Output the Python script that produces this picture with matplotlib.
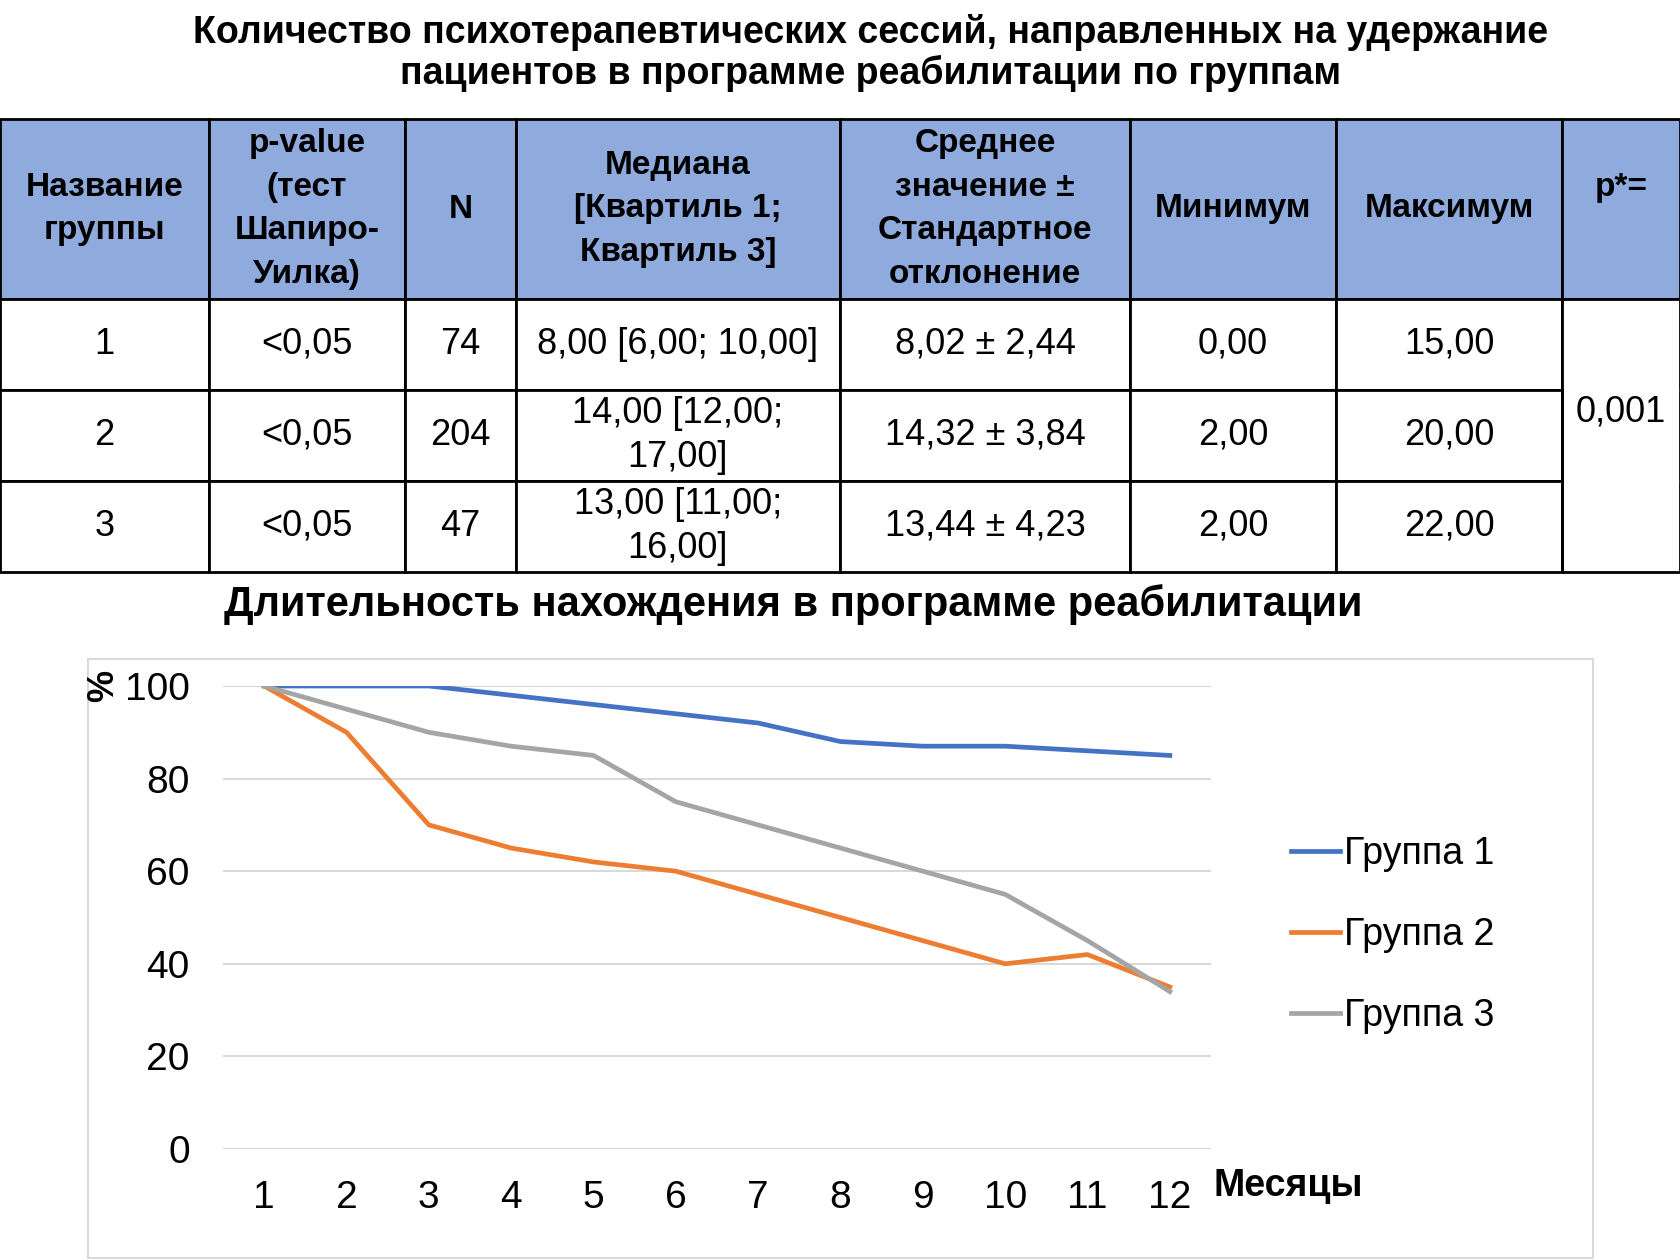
import matplotlib
matplotlib.use("Agg")
import matplotlib.pyplot as plt
from matplotlib.patches import Rectangle

plt.rcParams['font.family'] = ['Liberation Sans', 'DejaVu Sans']
NARROW = ['Liberation Sans Narrow', 'Liberation Sans', 'DejaVu Sans']

# --- данные таблицы ---
col_headers = ["Название\nгруппы", "p-value\n(тест\nШапиро-\nУилка)", "N",
               "Медиана\n[Квартиль 1;\nКвартиль 3]",
               "Среднее\nзначение ±\nСтандартное\nотклонение",
               "Минимум", "Максимум", "p*=\n"]
group_names = ["1", "2", "3"]
shapiro_p = ["<0,05", "<0,05", "<0,05"]
n_values = ["74", "204", "47"]
medians = ["8,00 [6,00; 10,00]", "14,00 [12,00;\n17,00]", "13,00 [11,00;\n16,00]"]
mean_sd = ["8,02 ± 2,44", "14,32 ± 3,84", "13,44 ± 4,23"]
minimums = ["0,00", "2,00", "2,00"]
maximums = ["15,00", "20,00", "22,00"]
p_total = "0,001"

# --- данные графика ---
months = [1, 2, 3, 4, 5, 6, 7, 8, 9, 10, 11, 12]
group1 = [100, 100, 100, 98, 96, 94, 92, 88, 87, 87, 86, 85]
group2 = [100, 90, 70, 65, 62, 60, 55, 50, 45, 40, 42, 35]
group3 = [100, 95, 90, 87, 85, 75, 70, 65, 60, 55, 45, 34]

fig = plt.figure(figsize=(16.8, 12.6), dpi=100)
W, H = 1680, 1260

fig.text(871 / W, 1 - 53 / H,
         "Количество психотерапевтических сессий, направленных на удержание\n"
         "пациентов в программе реабилитации по группам",
         ha='center', va='center', fontsize=27, fontweight='bold', linespacing=1.15)

# таблица
tab_top, tab_bot = 119, 572
tax = fig.add_axes([0, 1 - tab_bot / H, 1, (tab_bot - tab_top) / H])
tax.axis('off')
col_w = [209, 196, 111, 324, 290, 206, 226, 118]
col_w = [w / sum(col_w) for w in col_w]
body = [list(r) + [""] for r in zip(group_names, shapiro_p, n_values, medians,
                                    mean_sd, minimums, maximums)]
tbl = tax.table(cellText=[col_headers] + body, colWidths=col_w,
                bbox=[0, 0, 1, 1], cellLoc='center')
tbl.auto_set_font_size(False)
hdr_h = 180 / (tab_bot - tab_top)
row_h = (1 - hdr_h) / 3
for (r, c), cell in tbl.get_celld().items():
    cell.set_linewidth(2)
    cell.set_edgecolor('black')
    cell.set_height(hdr_h if r == 0 else row_h)
    txt = cell.get_text()
    txt.set_fontfamily(NARROW)
    if r == 0:
        cell.set_facecolor('#8FAADC')
        txt.set_fontweight('bold')
        txt.set_fontsize(24)
        txt.set_linespacing(1.52)
    else:
        txt.set_fontsize(26)
        txt.set_linespacing(1.3)
    if c == 7 and r > 0:
        cell.visible_edges = {1: 'TLR', 2: 'LR', 3: 'BLR'}[r]
tax.text(1 - col_w[7] / 2, 1 - (412 - tab_top) / (tab_bot - tab_top), p_total,
         ha='center', va='center', fontsize=26, family=NARROW)

# заголовок графика
fig.text(793 / W, 1 - 605 / H, "Длительность нахождения в программе реабилитации",
         ha='center', va='center', fontsize=30, fontweight='bold')

# рамка графика
fig.patches.append(Rectangle((88 / W, 1 - 1258 / H), (1593 - 88) / W, (1258 - 659) / H,
                             transform=fig.transFigure, fill=False,
                             edgecolor='#D9D9D9', linewidth=1.5))

ax = fig.add_axes([223 / W, 1 - 1149 / H, 988 / W, (1149 - 686) / H])
ax.plot(months, group1, color='#4472C4', lw=3.4, label='Группа 1')
ax.plot(months, group2, color='#ED7D31', lw=3.4, label='Группа 2')
ax.plot(months, group3, color='#A5A5A5', lw=3.4, label='Группа 3')
ax.set_xlim(0.5, 12.5)
ax.set_ylim(0, 100)
ax.set_xticks(months)
ax.set_yticks([0, 20, 40, 60, 80, 100])
ax.grid(axis='y', color='#D9D9D9', lw=1.5)
ax.set_axisbelow(True)
for s in ax.spines.values():
    s.set_visible(False)
ax.tick_params(length=0, labelsize=28)
ax.tick_params(axis='y', pad=24)
ax.tick_params(axis='x', pad=22)
for lab in ax.get_xticklabels() + ax.get_yticklabels():
    lab.set_fontfamily(NARROW)

fig.text(104 / W, 1 - 686 / H, "%", rotation=90, ha='center', va='center',
         fontsize=26, fontweight='bold')
fig.text(1214 / W, 1 - 1186 / H, "Месяцы", ha='left', va='center',
         fontsize=27, fontweight='bold')

fig.legend(loc='center left', bbox_to_anchor=(1291 / W, 1 - 935 / H), frameon=False,
           fontsize=27, handlelength=1.3, handletextpad=0.1, labelspacing=1.21,
           borderpad=0, borderaxespad=0)

fig.savefig("out.png", dpi=100)
